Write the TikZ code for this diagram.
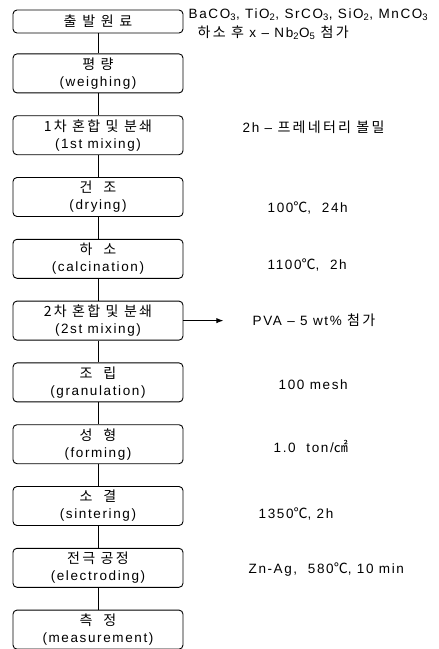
\documentclass[tikz,border=0pt]{standalone}
\usepackage{fontspec}
\setmainfont{Liberation Sans}[LetterSpace=12]
\newfontfamily\krfont{Noto Sans CJK KR}[LetterSpace=16, Scale=1.04]
\newcommand{\kor}[1]{{\krfont #1}}
\usetikzlibrary{positioning,arrows.meta}

\begin{document}
\begin{tikzpicture}[x=1pt, y=1pt, node distance=21.9pt, >=Latex,
  procbox/.style={draw, rectangle, rounded corners=4pt, line width=0.9pt, minimum width=170pt, minimum height=39pt, align=center, inner sep=1pt, font=\fontsize{13.5}{17}\selectfont},
  note/.style={inner sep=0pt, font=\fontsize{13.5}{16}\selectfont}]
  \useasboundingbox (0,0) rectangle (439,-649);

  \node[procbox, minimum height=23pt] (Raw) at (98,-21.5) {\kor{\addfontfeature{LetterSpace=40}출발원료}};
  \node[procbox, below=20pt of Raw] (Weigh) {\kor{평 량}\\(weighing)};
  \node[procbox, below=of Weigh] (Mix1) {\kor{1차 혼합 및 분쇄}\\(1st mixing)};
  \node[procbox, below=of Mix1] (Dry) {\kor{건 \ 조}\\(drying)};
  \node[procbox, below=of Dry] (Calc) {\kor{하 \ 소}\\(calcination)};
  \node[procbox, below=of Calc] (Mix2) {\kor{2차 혼합 및 분쇄}\\(2st mixing)};
  \node[procbox, below=of Mix2] (Gran) {\kor{조 \ 립}\\(granulation)};
  \node[procbox, below=of Gran] (Form) {\kor{성 \ 형}\\(forming)};
  \node[procbox, below=of Form] (Sint) {\kor{소 \ 결}\\(sintering)};
  \node[procbox, below=of Sint] (Elec) {\kor{전극 공정}\\(electroding)};
  \node[procbox, below=of Elec] (Meas) {\kor{측 \ 정}\\(measurement)};

  \node[note, right=5pt of Raw, yshift=6.5pt] (RawNote) {BaCO\textsubscript{3}, TiO\textsubscript{2}, SrCO\textsubscript{3}, SiO\textsubscript{2}, MnCO\textsubscript{3}};
  \node[note, anchor=west] (RawAdd) at ([xshift=9pt, yshift=-18pt]RawNote.west) {\kor{하소 후} x -- Nb\textsubscript{2}O\textsubscript{5} \kor{첨가}};
  \node[note, right=59pt of Mix1, yshift=8pt] (Mix1Note) {2h -- \kor{프레네터리 볼밀}};
  \node[note, right=84pt of Dry, yshift=-11pt] (DryNote) {100\kor{℃},\ \ 24h};
  \node[note, right=84pt of Calc, yshift=-6pt] (CalcNote) {1100\kor{℃},\ \ 2h};
  \node[note, right=69pt of Mix2] (Mix2Note) {PVA -- 5 wt\% \kor{첨가}};
  \node[note, right=95pt of Gran, yshift=-2pt] (GranNote) {100 mesh};
  \node[note, right=90pt of Form, yshift=-2pt] (FormNote) {1.0\ \ ton/\kor{㎠}};
  \node[note, right=75pt of Sint, yshift=-8pt] (SintNote) {1350\kor{℃}, 2h};
  \node[note, right=65pt of Elec, yshift=-2pt] (ElecNote) {Zn-Ag,\ \ 580\kor{℃}, 10 min};

  \coordinate[right=40pt of Mix2] (PVAEnd);

  \draw[line width=0.9pt] (Raw) -- (Weigh);
  \draw[line width=0.9pt] (Weigh) -- (Mix1);
  \draw[line width=0.9pt] (Mix1) -- (Dry);
  \draw[line width=0.9pt] (Dry) -- (Calc);
  \draw[line width=0.9pt] (Calc) -- (Mix2);
  \draw[line width=0.9pt] (Mix2) -- (Gran);
  \draw[line width=0.9pt] (Gran) -- (Form);
  \draw[line width=0.9pt] (Form) -- (Sint);
  \draw[line width=0.9pt] (Sint) -- (Elec);
  \draw[line width=0.9pt] (Elec) -- (Meas);
  \draw[->, line width=0.9pt] (Mix2) -- (PVAEnd);
\end{tikzpicture}
\end{document}
